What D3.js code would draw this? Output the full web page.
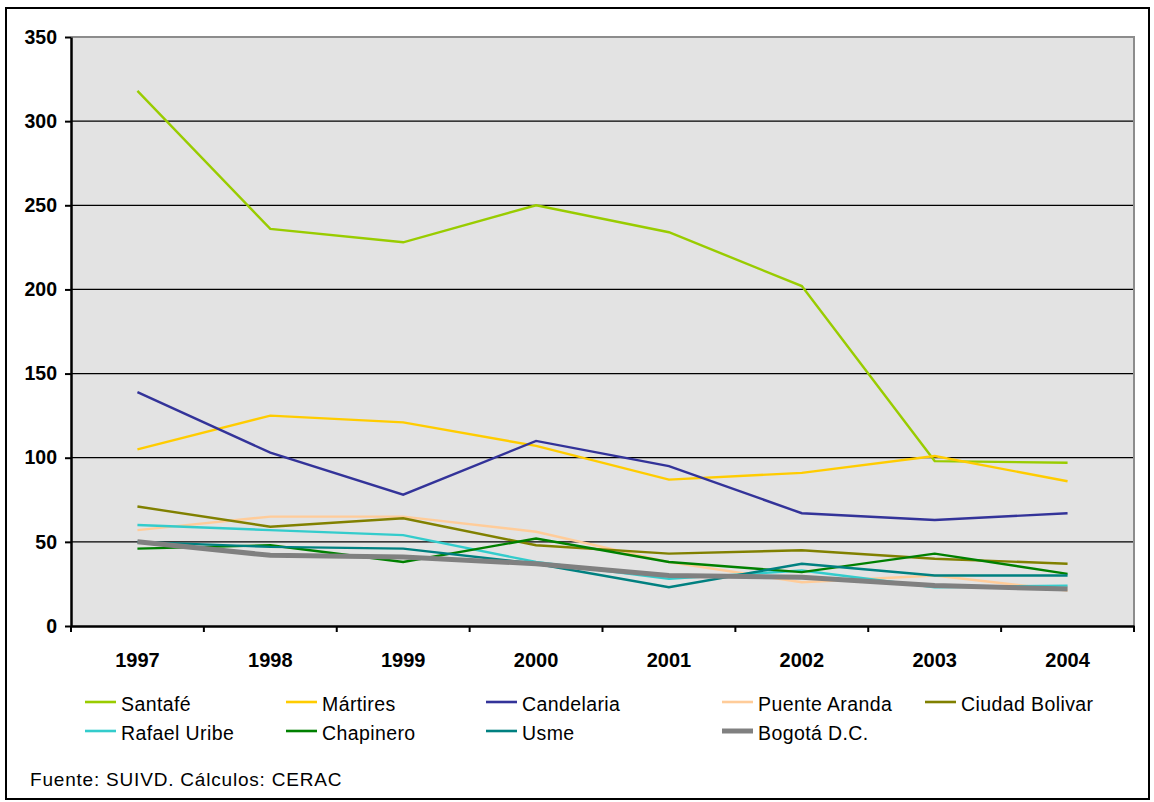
<!DOCTYPE html>
<html>
<head>
<meta charset="utf-8">
<script src="https://cdn.jsdelivr.net/npm/d3@7"></script>
<style>
  body { margin: 0; background: #fff; }
  svg { font-family: "Liberation Sans", Arial, sans-serif; }
</style>
</head>
<body>
<svg id="chart" width="1154" height="802"></svg>
<script>
// data
const years = ['1997', '1998', '1999', '2000', '2001', '2002', '2003', '2004'];
const yTicks = [0, 50, 100, 150, 200, 250, 300, 350];

const santafe       = [318, 236, 228, 250, 234, 202, 98, 97];
const martires      = [105, 125, 121, 107, 87, 91, 101, 86];
const candelaria    = [139, 103, 78, 110, 95, 67, 63, 67];
const puenteAranda  = [57, 65, 65, 56, 38, 26, 30, 21];
const ciudadBolivar = [71, 59, 64, 48, 43, 45, 40, 37];
const rafaelUribe   = [60, 57, 54, 38, 28, 33, 23, 24];
const chapinero     = [46, 48, 38, 52, 38, 32, 43, 31];
const usme          = [50, 47, 46, 37, 23, 37, 30, 30];
const bogota        = [50, 42, 41, 37, 30, 29, 24, 22];

const seriesNames = ['Santafé', 'Mártires', 'Candelaria', 'Puente Aranda', 'Ciudad Bolivar',
                     'Rafael Uribe', 'Chapinero', 'Usme', 'Bogotá D.C.'];
const seriesValues = [santafe, martires, candelaria, puenteAranda, ciudadBolivar,
                      rafaelUribe, chapinero, usme, bogota];
const seriesColors = ['#99cc00', '#ffcc00', '#333399', '#ffcc99', '#808000',
                      '#33cccc', '#008000', '#008080', '#808080'];

const margin = {top: 37, left: 71, right: 20, bottom: 176};
const width = 1134 - margin.left;
const height = 626 - margin.top;

const svg = d3.select('#chart');

// outer frame
svg.append('rect')
  .attr('x', 6).attr('y', 8)
  .attr('width', 1143).attr('height', 791)
  .attr('fill', 'none')
  .attr('stroke', '#000')
  .attr('stroke-width', 2);

const chart = svg.append('g')
  .attr('transform', `translate(${margin.left},${margin.top})`);

const xScale = d3.scaleBand().domain(years).range([0, width]);
const yScale = d3.scaleLinear().domain([0, 350]).range([height, 0]);

// plot area
chart.append('rect')
  .attr('width', width).attr('height', height)
  .attr('fill', '#e3e3e3');

// gridlines
chart.selectAll('.grid')
  .data(yTicks.filter(d => d > 0 && d < 350))
  .join('line')
  .attr('class', 'grid')
  .attr('x1', 0).attr('x2', width)
  .attr('y1', d => yScale(d)).attr('y2', d => yScale(d))
  .attr('stroke', '#000')
  .attr('stroke-width', 1.2);

// grey top / right border of plot area
chart.append('path')
  .attr('d', `M0,${yScale(350)}H${width}V${height}`)
  .attr('fill', 'none')
  .attr('stroke', '#8c8c8c')
  .attr('stroke-width', 2);

// lines
const line = d3.line()
  .x((d, i) => xScale(years[i]) + xScale.bandwidth() / 2)
  .y(d => yScale(d));

seriesValues.forEach((vals, i) => {
  chart.append('path')
    .datum(vals)
    .attr('d', line)
    .attr('fill', 'none')
    .attr('stroke', seriesColors[i])
    .attr('stroke-width', i === 8 ? 5 : 2.4)
    .attr('stroke-linejoin', 'miter');
});

// axes
const xAxis = d3.axisBottom(xScale).tickSize(0).tickSizeOuter(0);
const xAxisG = chart.append('g')
  .attr('transform', `translate(0,${height})`)
  .call(xAxis);
xAxisG.select('.domain').attr('stroke', '#000').attr('stroke-width', 2.5);
xAxisG.selectAll('text')
  .attr('y', 41)
  .attr('dy', null)
  .attr('fill', '#000')
  .attr('font-size', 20)
  .attr('font-weight', 'bold')
  .attr('font-family', '"Liberation Sans", Arial, sans-serif');

// bottom tick marks at band boundaries
chart.selectAll('.xtick')
  .data(years.concat(['end']))
  .join('line')
  .attr('class', 'xtick')
  .attr('x1', (d, i) => i * xScale.step())
  .attr('x2', (d, i) => i * xScale.step())
  .attr('y1', height).attr('y2', height + 6)
  .attr('stroke', '#000')
  .attr('stroke-width', 2);

const yAxis = d3.axisLeft(yScale).tickValues(yTicks).tickSize(6).tickSizeOuter(0).tickPadding(8);
const yAxisG = chart.append('g').call(yAxis);
yAxisG.select('.domain').attr('stroke', '#000').attr('stroke-width', 2.5);
yAxisG.selectAll('.tick line').attr('stroke', '#000').attr('stroke-width', 2);
yAxisG.selectAll('text')
  .attr('fill', '#000')
  .attr('font-size', 19.5)
  .attr('font-weight', 'bold')
  .attr('font-family', '"Liberation Sans", Arial, sans-serif');

// legend
const legendX = [85, 286, 486, 722, 925];
const legendY = [702, 731];
const legend = svg.append('g');
seriesNames.forEach((name, i) => {
  const row = i < 5 ? 0 : 1;
  const col = i < 5 ? i : (i === 8 ? 3 : i - 5);
  const g = legend.append('g')
    .attr('transform', `translate(${legendX[col]},${legendY[row]})`);
  g.append('line')
    .attr('x1', 0).attr('x2', 31)
    .attr('stroke', seriesColors[i])
    .attr('stroke-width', i === 8 ? 5 : 2.6);
  g.append('text')
    .attr('x', 36).attr('y', 8.5)
    .attr('font-size', 19.5)
    .attr('letter-spacing', 0.4)
    .attr('fill', '#000')
    .text(name);
});

// source note
svg.append('text')
  .attr('x', 30).attr('y', 786)
  .attr('font-size', 19)
  .attr('letter-spacing', 0.8)
  .attr('fill', '#000')
  .text('Fuente: SUIVD. Cálculos: CERAC');
</script>
</body>
</html>
